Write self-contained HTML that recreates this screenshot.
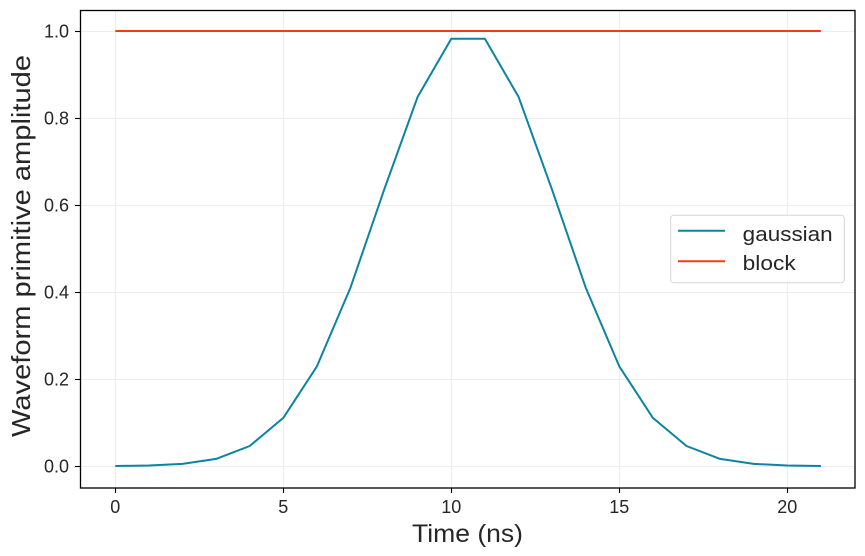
<!DOCTYPE html>
<html>
<head>
<meta charset="utf-8">
<style>
html,body{margin:0;padding:0;background:#fff;}
svg{display:block;}
text{font-family:"Liberation Sans","DejaVu Sans",sans-serif;fill:#262626;}
</style>
</head>
<body>
<svg width="865" height="556" viewBox="0 0 865 556" xmlns="http://www.w3.org/2000/svg">
<rect x="0" y="0" width="865" height="556" fill="#fff"/>
<!-- grid -->
<g stroke="#ededed" stroke-width="1">
<line x1="115.5" y1="10" x2="115.5" y2="488"/>
<line x1="283.5" y1="10" x2="283.5" y2="488"/>
<line x1="451.5" y1="10" x2="451.5" y2="488"/>
<line x1="619.5" y1="10" x2="619.5" y2="488"/>
<line x1="787.5" y1="10" x2="787.5" y2="488"/>
<line x1="80" y1="466.5" x2="855" y2="466.5"/>
<line x1="80" y1="379.5" x2="855" y2="379.5"/>
<line x1="80" y1="292.5" x2="855" y2="292.5"/>
<line x1="80" y1="205.5" x2="855" y2="205.5"/>
<line x1="80" y1="118.5" x2="855" y2="118.5"/>
<line x1="80" y1="31.5" x2="855" y2="31.5"/>
</g>
<!-- series -->
<polyline fill="none" stroke="#0b84a0" stroke-width="2" stroke-linejoin="round"
points="115.3,466 148.9,465.5 182.5,463.9 216.1,458.9 249.7,446 283.3,417.9 316.9,366.4 350.5,287.6 384.1,189.8 417.7,96.7 451.3,38.8 484.9,38.8 518.5,96.7 552.1,189.8 585.7,287.6 619.3,366.4 652.9,417.9 686.5,446 720.1,458.9 753.7,463.9 787.3,465.5 820.9,466"/>
<line x1="115.3" y1="31" x2="820.9" y2="31" stroke="#f53c0f" stroke-width="2"/>
<!-- axes -->
<rect x="80.5" y="10.5" width="774.5" height="477.5" fill="none" stroke="#000" stroke-width="1.3"/>
<!-- ticks -->
<g stroke="#000" stroke-width="1.1">
<line x1="115.5" y1="488" x2="115.5" y2="493"/>
<line x1="283.5" y1="488" x2="283.5" y2="493"/>
<line x1="451.5" y1="488" x2="451.5" y2="493"/>
<line x1="619.5" y1="488" x2="619.5" y2="493"/>
<line x1="787.5" y1="488" x2="787.5" y2="493"/>
<line x1="75" y1="466.5" x2="80" y2="466.5"/>
<line x1="75" y1="379.5" x2="80" y2="379.5"/>
<line x1="75" y1="292.5" x2="80" y2="292.5"/>
<line x1="75" y1="205.5" x2="80" y2="205.5"/>
<line x1="75" y1="118.5" x2="80" y2="118.5"/>
<line x1="75" y1="31.5" x2="80" y2="31.5"/>
</g>
<g font-size="18" text-anchor="middle">
<text x="115.3" y="513">0</text>
<text x="283.3" y="513">5</text>
<text x="451.3" y="513">10</text>
<text x="619.3" y="513">15</text>
<text x="787.3" y="513">20</text>
</g>
<g font-size="18" text-anchor="end">
<text x="69" y="472.5">0.0</text>
<text x="69" y="385.5">0.2</text>
<text x="69" y="298.5">0.4</text>
<text x="69" y="211.5">0.6</text>
<text x="69" y="124.5">0.8</text>
<text x="69" y="37.5">1.0</text>
</g>
<text x="467.5" y="542" font-size="25" text-anchor="middle" textLength="111" lengthAdjust="spacingAndGlyphs">Time (ns)</text>
<text transform="translate(30,246) rotate(-90)" x="0" y="0" font-size="26" text-anchor="middle" textLength="382" lengthAdjust="spacingAndGlyphs">Waveform primitive amplitude</text>
<!-- legend -->
<rect x="670.7" y="215.3" width="173.6" height="67.4" rx="3" ry="3" fill="#fff" fill-opacity="0.85" stroke="#d6d6d6" stroke-width="1"/>
<line x1="678" y1="230.7" x2="725" y2="230.7" stroke="#0b84a0" stroke-width="2"/>
<line x1="678" y1="261.3" x2="725" y2="261.3" stroke="#f53c0f" stroke-width="2"/>
<text x="742.7" y="241" font-size="20" textLength="90" lengthAdjust="spacingAndGlyphs">gaussian</text>
<text x="742.7" y="270" font-size="20" textLength="53" lengthAdjust="spacingAndGlyphs">block</text>
</svg>
</body>
</html>
